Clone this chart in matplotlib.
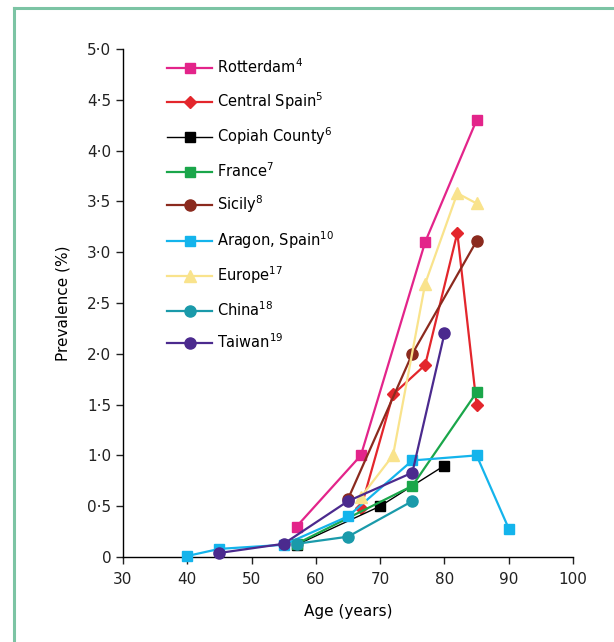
import matplotlib.pyplot as plt
from matplotlib.lines import Line2D
from matplotlib.ticker import FuncFormatter

plt.rcParams['font.family'] = ['Liberation Sans Narrow', 'DejaVu Sans']

# Datos de prevalencia por estudio (edad, %)
rotterdam_x = [57, 67, 77, 85]
rotterdam_y = [0.30, 1.00, 3.10, 4.30]
cspain_x = [67, 72, 77, 82, 85]
cspain_y = [0.48, 1.60, 1.89, 3.19, 1.50]
copiah_x = [57, 70, 80]
copiah_y = [0.12, 0.50, 0.90]
france_x = [57, 75, 85]
france_y = [0.13, 0.70, 1.62]
sicily_x = [65, 75, 85]
sicily_y = [0.57, 2.00, 3.11]
aragon_x = [40, 45, 55, 65, 75, 85, 90]
aragon_y = [0.01, 0.08, 0.12, 0.40, 0.95, 1.00, 0.28]
europe_x = [67, 72, 77, 82, 85]
europe_y = [0.59, 1.00, 2.69, 3.58, 3.48]
china_x = [57, 65, 75]
china_y = [0.13, 0.20, 0.55]
taiwan_x = [45, 55, 65, 75, 80]
taiwan_y = [0.04, 0.13, 0.55, 0.83, 2.20]

series = [
    ('Rotterdam', '4', rotterdam_x, rotterdam_y, '#e3248a', 's', 7),
    ('Central Spain', '5', cspain_x, cspain_y, '#e3262c', 'D', 6.5),
    ('Copiah County', '6', copiah_x, copiah_y, '#000000', 's', 7),
    ('France', '7', france_x, france_y, '#1aa64a', 's', 7),
    ('Sicily', '8', sicily_x, sicily_y, '#8b2a1e', 'o', 8),
    ('Aragon, Spain', '10', aragon_x, aragon_y, '#14b4ec', 's', 7),
    ('Europe', '17', europe_x, europe_y, '#f9e38c', '^', 8.5),
    ('China', '18', china_x, china_y, '#1a9aaa', 'o', 8),
    ('Taiwan', '19', taiwan_x, taiwan_y, '#4b2a8e', 'o', 8),
]

fig = plt.figure(figsize=(6.14, 6.42), dpi=100)
ax = fig.add_axes([0.2003, 0.1324, 0.733, 0.7913])

for nombre, ref, xs, ys, color, marker, ms in series:
    lw = 1.0 if color == '#000000' else 1.6
    ax.plot(xs, ys, color=color, lw=lw, marker=marker, ms=ms,
            label=nombre + r'$^{\mathregular{' + ref + '}}$', clip_on=False, zorder=3)

ax.set_xlim(30, 100)
ax.set_ylim(0, 5)
ax.set_xticks(range(30, 101, 10))
ax.set_yticks([i * 0.5 for i in range(11)])
ax.yaxis.set_major_formatter(FuncFormatter(
    lambda v, p: '0' if v == 0 else f'{v:.1f}'.replace('.', '\u00b7')))
for s in ['top', 'right']:
    ax.spines[s].set_visible(False)
ax.spines['left'].set_linewidth(1.0)
ax.spines['bottom'].set_linewidth(1.0)
ax.tick_params(axis='both', direction='out', length=5, width=1.0,
               labelsize=11, colors='#222222')
ax.tick_params(axis='x', pad=6)
ax.set_xlabel('Age (years)', fontsize=11, labelpad=12)
ax.set_ylabel('Prevalence (%)', fontsize=11, labelpad=12)

ax.legend(loc='upper left', bbox_to_anchor=(0.085, 0.995), frameon=False,
          fontsize=10.5, handlelength=3.1, handletextpad=0.3,
          labelspacing=0.95, borderaxespad=0)

# Marco verde de la figura
fig.add_artist(Line2D([0.023, 0.023], [0, 0.988], color='#7cc4a4', lw=2.2,
                      transform=fig.transFigure))
fig.add_artist(Line2D([0.023, 1], [0.988, 0.988], color='#7cc4a4', lw=2.2,
                      transform=fig.transFigure))

plt.savefig('out.png', dpi=100)
plt.close()
